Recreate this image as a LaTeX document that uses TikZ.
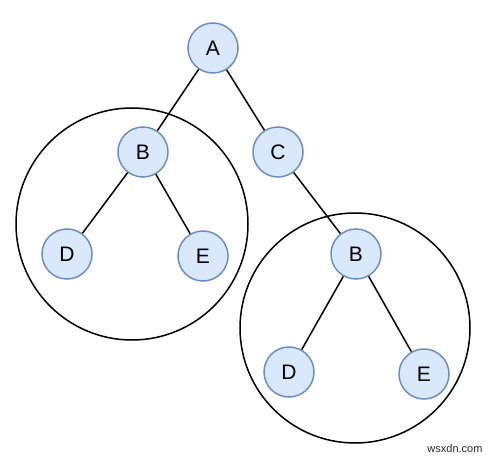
\documentclass[tikz,border=0pt]{standalone}
\usepackage{fontspec}
\setmainfont{Liberation Sans}
\definecolor{nodefill}{HTML}{DAE8FC}
\definecolor{nodeline}{HTML}{6C8EBF}
\begin{document}
\begin{tikzpicture}[x=1pt, y=-1pt, main/.style = {draw=nodeline, circle, fill=nodefill, line width=1.5pt, minimum size=50pt, inner sep=0pt, font=\fontsize{21}{24}\selectfont}, big/.style = {draw, circle, line width=1.5pt, inner sep=0pt}]
			\useasboundingbox (0,0) rectangle (488,460);
			\node[big, minimum size=232pt] (t1) at (132,224) {};
			\node[big, minimum size=230pt] (t2) at (355,328) {};
			\node[main] (a) at (213,48) {A};
			\node[main] (b) at (143,152) {B};
			\node[main] (c) at (278,152) {C};
			\node[main] (d) at (67,254) {D};
			\node[main] (e) at (203,256) {E};
			\node[main] (b2) at (356,254) {B};
			\node[main] (d2) at (289,372) {D};
			\node[main] (e2) at (424,374) {E};
			\draw[line width=1.5pt] (a) -- (b);
			\draw[line width=1.5pt] (a) -- (c);
			\draw[line width=1.5pt] (b) -- (d);
			\draw[line width=1.5pt] (b) -- (e);
			\draw[line width=1.5pt] (c) -- (b2);
			\draw[line width=1.5pt] (b2) -- (d2);
			\draw[line width=1.5pt] (b2) -- (e2);
			\node[font=\fontsize{11}{13}\selectfont, text=black!85] (wm) at (455,449) {wsxdn.com};
		\end{tikzpicture}
\end{document}
